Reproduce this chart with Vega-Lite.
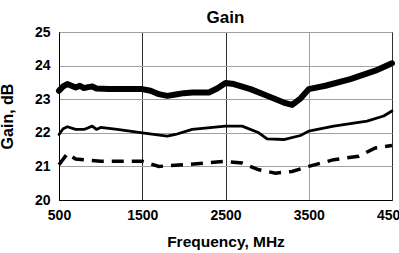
{
  "$schema": "https://vega.github.io/schema/vega-lite/v6.json",
  "width": 333,
  "height": 168,
  "autosize": "none",
  "padding": {"left": 59, "top": 32, "right": 7, "bottom": 53},
  "background": "white",
  "title": {"text": "Gain", "font": "Liberation Sans", "fontSize": 17, "fontWeight": "bold", "color": "black", "anchor": "middle", "frame": "group", "offset": 7, "baseline": "alphabetic", "dy": 22},
  "config": {
    "view": {"stroke": "black", "strokeWidth": 1},
    "axis": {"labelFont": "Liberation Sans", "labelFontWeight": "bold", "labelFontSize": 14, "labelColor": "black", "titleFont": "Liberation Sans", "titleFontWeight": "bold", "titleFontSize": 15.5, "titleColor": "black", "ticks": false, "domainColor": "black", "gridOpacity": 1}
  },
  "data": {"values": [
    {"series": "top", "f": 500, "g": 23.25},
    {"series": "top", "f": 550, "g": 23.38},
    {"series": "top", "f": 600, "g": 23.45},
    {"series": "top", "f": 650, "g": 23.4},
    {"series": "top", "f": 700, "g": 23.35},
    {"series": "top", "f": 750, "g": 23.4},
    {"series": "top", "f": 800, "g": 23.33},
    {"series": "top", "f": 850, "g": 23.36},
    {"series": "top", "f": 900, "g": 23.38},
    {"series": "top", "f": 950, "g": 23.32},
    {"series": "top", "f": 1100, "g": 23.3},
    {"series": "top", "f": 1500, "g": 23.3},
    {"series": "top", "f": 1600, "g": 23.25},
    {"series": "top", "f": 1700, "g": 23.15},
    {"series": "top", "f": 1800, "g": 23.1},
    {"series": "top", "f": 1900, "g": 23.14},
    {"series": "top", "f": 2000, "g": 23.18},
    {"series": "top", "f": 2100, "g": 23.2},
    {"series": "top", "f": 2300, "g": 23.2},
    {"series": "top", "f": 2400, "g": 23.32},
    {"series": "top", "f": 2500, "g": 23.48},
    {"series": "top", "f": 2600, "g": 23.45},
    {"series": "top", "f": 2800, "g": 23.3},
    {"series": "top", "f": 3000, "g": 23.1},
    {"series": "top", "f": 3200, "g": 22.9},
    {"series": "top", "f": 3300, "g": 22.83},
    {"series": "top", "f": 3400, "g": 23.02},
    {"series": "top", "f": 3500, "g": 23.3},
    {"series": "top", "f": 3700, "g": 23.4},
    {"series": "top", "f": 4000, "g": 23.6},
    {"series": "top", "f": 4300, "g": 23.85},
    {"series": "top", "f": 4500, "g": 24.07},
    {"series": "mid", "f": 500, "g": 21.95},
    {"series": "mid", "f": 550, "g": 22.12},
    {"series": "mid", "f": 600, "g": 22.18},
    {"series": "mid", "f": 700, "g": 22.1},
    {"series": "mid", "f": 800, "g": 22.1},
    {"series": "mid", "f": 900, "g": 22.2},
    {"series": "mid", "f": 950, "g": 22.1},
    {"series": "mid", "f": 1000, "g": 22.16},
    {"series": "mid", "f": 1200, "g": 22.1},
    {"series": "mid", "f": 1500, "g": 22.0},
    {"series": "mid", "f": 1800, "g": 21.9},
    {"series": "mid", "f": 1900, "g": 21.95},
    {"series": "mid", "f": 2100, "g": 22.1},
    {"series": "mid", "f": 2500, "g": 22.2},
    {"series": "mid", "f": 2700, "g": 22.2},
    {"series": "mid", "f": 2900, "g": 22.0},
    {"series": "mid", "f": 3000, "g": 21.82},
    {"series": "mid", "f": 3200, "g": 21.8},
    {"series": "mid", "f": 3400, "g": 21.92},
    {"series": "mid", "f": 3500, "g": 22.05},
    {"series": "mid", "f": 3800, "g": 22.2},
    {"series": "mid", "f": 4200, "g": 22.35},
    {"series": "mid", "f": 4400, "g": 22.5},
    {"series": "mid", "f": 4500, "g": 22.65},
    {"series": "dash", "f": 500, "g": 21.05},
    {"series": "dash", "f": 600, "g": 21.38},
    {"series": "dash", "f": 700, "g": 21.22},
    {"series": "dash", "f": 800, "g": 21.2},
    {"series": "dash", "f": 1000, "g": 21.15},
    {"series": "dash", "f": 1500, "g": 21.15},
    {"series": "dash", "f": 1700, "g": 21.0},
    {"series": "dash", "f": 2000, "g": 21.05},
    {"series": "dash", "f": 2500, "g": 21.15},
    {"series": "dash", "f": 2700, "g": 21.1},
    {"series": "dash", "f": 2900, "g": 20.9},
    {"series": "dash", "f": 3100, "g": 20.8},
    {"series": "dash", "f": 3300, "g": 20.85},
    {"series": "dash", "f": 3500, "g": 21.0},
    {"series": "dash", "f": 3800, "g": 21.2},
    {"series": "dash", "f": 4100, "g": 21.3},
    {"series": "dash", "f": 4300, "g": 21.55},
    {"series": "dash", "f": 4500, "g": 21.62}
  ]},
  "encoding": {
    "x": {"field": "f", "type": "quantitative", "scale": {"domain": [500, 4500], "nice": false, "zero": false},
      "axis": {"values": [500, 1500, 2500, 3500, 4500], "format": "d", "title": "Frequency, MHz", "labelPadding": 8, "titleY": 46, "titleBaseline": "alphabetic", "labelFlush": false,
        "gridColor": {"condition": {"test": "datum.value === 3500", "value": "#a0a0a0"}, "value": "#303030"}}},
    "y": {"field": "g", "type": "quantitative", "scale": {"domain": [20, 25], "nice": false, "zero": false},
      "axis": {"values": [20, 21, 22, 23, 24, 25], "title": "Gain, dB", "titleFontSize": 16, "labelPadding": 9, "titleX": -47, "titleBaseline": "alphabetic", "gridColor": "#a0a0a0"}}
  },
  "layer": [
    {"transform": [{"filter": "datum.series === 'dash'"}], "mark": {"type": "line", "color": "black", "strokeWidth": 3.5, "strokeDash": [12, 8], "strokeCap": "butt"}},
    {"transform": [{"filter": "datum.series === 'mid'"}], "mark": {"type": "line", "color": "black", "strokeWidth": 2.8, "strokeCap": "round", "strokeJoin": "round"}},
    {"transform": [{"filter": "datum.series === 'top'"}], "mark": {"type": "line", "color": "black", "strokeWidth": 6, "strokeCap": "round", "strokeJoin": "round"}}
  ]
}
